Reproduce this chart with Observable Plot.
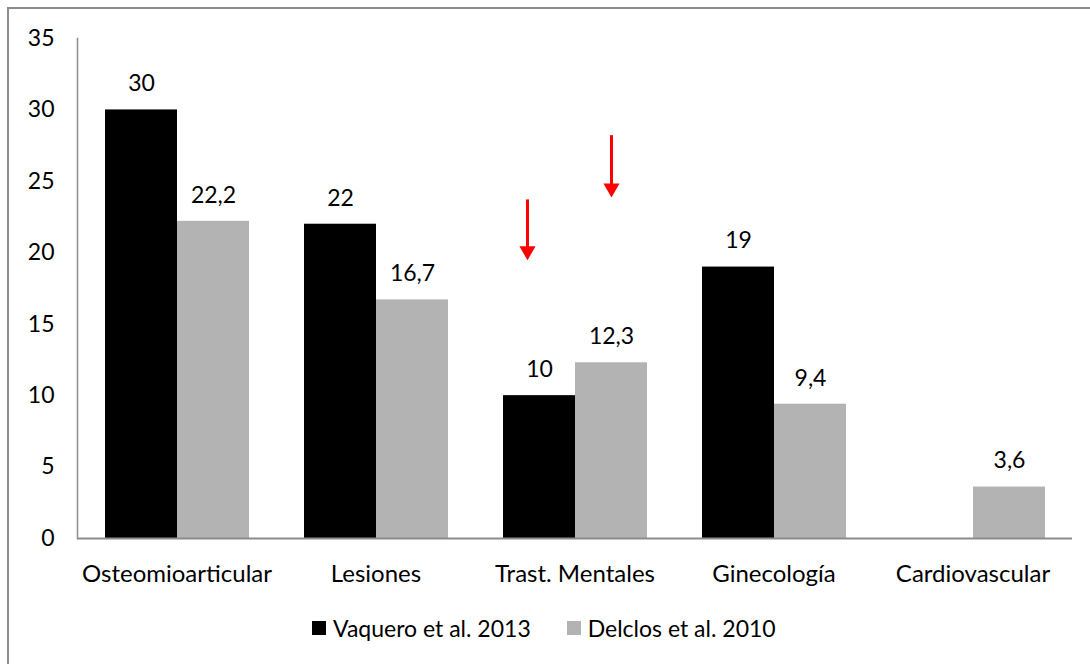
<!DOCTYPE html>
<html>
<head>
<meta charset="utf-8">
<script src="https://cdn.jsdelivr.net/npm/d3@7"></script>
<script src="https://cdn.jsdelivr.net/npm/@observablehq/plot@0.6"></script>
<style>
  html, body { margin: 0; padding: 0; background: #fff; overflow: hidden; }
  #wrap { position: relative; width: 1090px; height: 664px; font-family: Lato, sans-serif; }
  #border { position: absolute; left: 7px; top: 7px; width: 1200px; height: 800px; border: 2px solid #8c8c8c; pointer-events: none; }
  #legend { position: absolute; left: 312px; top: 610px; height: 36px; display: flex; align-items: center; font-size: 23px; color: #000; }
  .item { display: flex; align-items: center; margin-right: 36px; }
  .sw { width: 14px; height: 14px; margin-right: 7px; }
</style>
</head>
<body>
<div id="wrap">
  <div id="chart"></div>
  <div id="legend"></div>
  <div id="border"></div>
</div>
<script>
const categories = ["Osteomioarticular", "Lesiones", "Trast. Mentales", "Ginecología", "Cardiovascular"];
const seriesNames = ["Vaquero et al. 2013", "Delclos et al. 2010"];
const vaquero = [30, 22, 10, 19, null];
const delclos = [22.2, 16.7, 12.3, 9.4, 3.6];
const yTicks = [0, 5, 10, 15, 20, 25, 30, 35];
const seriesColors = ["#000000", "#b3b3b3"];

// red annotation arrows (category, series, start value, tip value)
const arrowCats = ["Trast. Mentales", "Trast. Mentales"];
const arrowSeries = ["Vaquero et al. 2013", "Delclos et al. 2010"];
const arrowFrom = [23.7, 28.2];
const arrowTo = [19.5, 23.9];

const data = [];
categories.forEach((c, i) => {
  if (vaquero[i] != null) data.push({cat: c, series: seriesNames[0], value: vaquero[i]});
  if (delclos[i] != null) data.push({cat: c, series: seriesNames[1], value: delclos[i]});
});
const arrows = arrowCats.map((c, i) => ({cat: c, series: arrowSeries[i], from: arrowFrom[i], to: arrowTo[i]}));
const fmt = v => String(v).replace(".", ",");

const arrowMarks = arrows.flatMap((a, i) => {
  const dx = i === 0 ? -12 : 0;
  return [
    Plot.ruleX([a], {fx: "cat", x: "series", y1: "from", y2: "to", stroke: "#ff0000", strokeWidth: 3, insetBottom: 10, dx}),
    Plot.dot([a], {fx: "cat", x: "series", y: "to", symbol: "triangle", r: 6, rotate: 180, fill: "#ff0000", stroke: "none", dy: -9, dx})
  ];
});

const chart = Plot.plot({
  width: 1090,
  height: 610,
  marginLeft: 75,
  marginRight: 17,
  marginTop: 38,
  marginBottom: 72,
  style: {fontFamily: "Lato, sans-serif", fontSize: "23px", color: "#000", background: "transparent"},
  fx: {domain: categories, padding: 0, label: null, axis: null},
  x: {domain: seriesNames, axis: null, paddingInner: 0, paddingOuter: 0.37},
  y: {domain: [0, 35], axis: null},
  color: {domain: seriesNames, range: seriesColors},
  marks: [
    Plot.axisY({ticks: yTicks, tickSize: 0, tickPadding: 23, fill: "#000", label: null, fontSize: 23}),
    Plot.frame({anchor: "left", facetAnchor: "left", stroke: "#8c8c8c", strokeWidth: 1.5}),
    Plot.axisFx({anchor: "bottom", tickSize: 0, tickPadding: 26, label: null, fill: "#000", fontSize: 24}),
    Plot.barY(data, {fx: "cat", x: "series", y: "value", fill: "series"}),
    Plot.ruleY([0], {stroke: "#8c8c8c", strokeWidth: 2}),
    Plot.text(data, {fx: "cat", x: "series", y: "value", text: d => fmt(d.value), dy: -26, fill: "#000", fontSize: 23}),
    ...arrowMarks
  ]
});
document.getElementById("chart").appendChild(chart);

const legend = document.getElementById("legend");
seriesNames.forEach((s, i) => {
  const item = document.createElement("div");
  item.className = "item";
  const sw = document.createElement("div");
  sw.className = "sw";
  sw.style.background = seriesColors[i];
  const t = document.createElement("span");
  t.textContent = s;
  item.appendChild(sw);
  item.appendChild(t);
  legend.appendChild(item);
});
</script>
</body>
</html>
